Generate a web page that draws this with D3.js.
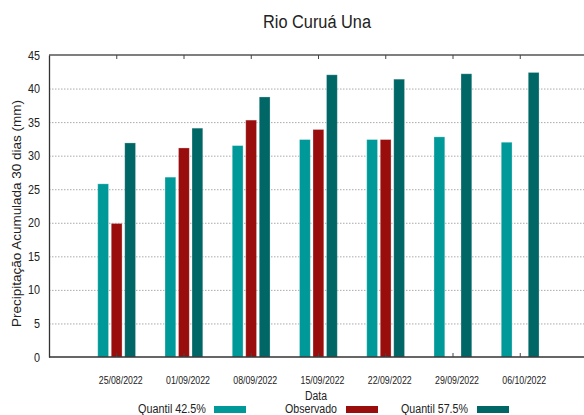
<!DOCTYPE html>
<html>
<head>
<meta charset="utf-8">
<script src="https://cdn.jsdelivr.net/npm/d3@7"></script>
<style>
  body { margin: 0; background: #fff; }
  text { font-family: "Liberation Sans", Arial, sans-serif; fill: #222; }
</style>
</head>
<body>
<script>
// data
const dates = ["2022-08-25", "2022-09-01", "2022-09-08", "2022-09-15", "2022-09-22", "2022-09-29", "2022-10-06"];
const q425 = [25.8, 26.8, 31.5, 32.4, 32.4, 32.8, 32.0];
const observado = [19.9, 31.15, 35.3, 33.9, 32.4, null, null];
const q575 = [31.9, 34.1, 38.75, 42.05, 41.4, 42.2, 42.4];
const seriesNames = ["Quantil 42.5%", "Observado", "Quantil 57.5%"];
const seriesColors = ["#009999", "#990d0d", "#006666"];
const yTicks = [0, 5, 10, 15, 20, 25, 30, 35, 40, 45];

const width = 584, height = 415;
const parse = d3.timeParse("%Y-%m-%d");
const fmt = d3.timeFormat("%d/%m/%Y");

const svg = d3.select("body").append("svg")
    .attr("width", width)
    .attr("height", height);

const x = d3.scaleTime()
    .domain([parse("2022-08-18"), parse("2022-10-13")])
    .range([49, 587]);
const y = d3.scaleLinear().domain([0, 45]).range([357, 55]);
// offset of each series inside a week group
const xs = d3.scaleBand().domain(seriesNames).range([-18.5, 19.3]).paddingInner(0.2);

const rows = dates.map((d, i) => ({
    date: parse(d),
    vals: [q425[i], observado[i], q575[i]]
}));

// dotted grid
svg.append("g").selectAll("line")
    .data(yTicks.filter(t => t > 0 && t < 45))
    .join("line")
    .attr("x1", x.range()[0]).attr("x2", width)
    .attr("y1", d => y(d) + 0.5).attr("y2", d => y(d) + 0.5)
    .attr("stroke", "#aaa")
    .attr("stroke-dasharray", "1.5,1.5");

// bars
const groups = svg.append("g").selectAll("g")
    .data(rows)
    .join("g")
    .attr("transform", d => `translate(${x(d.date)},0)`);
groups.selectAll("rect")
    .data(d => d.vals.map((v, k) => ({ v, k })).filter(e => e.v != null))
    .join("rect")
    .attr("x", e => xs(seriesNames[e.k]))
    .attr("width", xs.bandwidth())
    .attr("y", e => y(e.v))
    .attr("height", e => y(0) - y(e.v))
    .attr("fill", e => seriesColors[e.k])
    .attr("stroke", "#fff")
    .attr("stroke-opacity", 0.35)
    .attr("stroke-width", 0.8);

// frame and axes
svg.append("line").attr("x1", 49).attr("x2", width).attr("y1", 55).attr("y2", 55)
    .attr("stroke", "#555").attr("stroke-width", 1.3);
svg.append("line").attr("x1", 49).attr("x2", width).attr("y1", 357).attr("y2", 357)
    .attr("stroke", "#333").attr("stroke-width", 1.3);

const yAxis = svg.append("g")
    .attr("transform", "translate(49,0)")
    .call(d3.axisLeft(y).tickValues(yTicks).tickSize(0).tickPadding(9));
yAxis.select(".domain").attr("stroke", "#333").attr("stroke-width", 1.3);
yAxis.selectAll("text").attr("font-size", 12.5)
    .style("font-family", "'Liberation Sans', Arial, sans-serif").attr("fill", "#222")
    .attr("textLength", d => d < 10 ? 6 : 12).attr("lengthAdjust", "spacingAndGlyphs");

// date ticks, top pointing down, bottom pointing up
svg.append("g").attr("transform", "translate(0,55)")
    .call(d3.axisBottom(x).tickValues(rows.map(r => r.date)).tickSize(4).tickFormat(""))
    .call(g => g.select(".domain").remove())
    .selectAll("line").attr("stroke", "#444");
svg.append("g").attr("transform", "translate(0,357)")
    .call(d3.axisTop(x).tickValues(rows.map(r => r.date)).tickSize(4).tickFormat(""))
    .call(g => g.select(".domain").remove())
    .selectAll("line").attr("stroke", "#444");

// date labels
svg.append("g").selectAll("text")
    .data(rows)
    .join("text")
    .attr("x", d => x(d.date) + 4.5)
    .attr("y", 384)
    .attr("text-anchor", "middle")
    .attr("font-size", 10.5)
    .attr("textLength", 44)
    .attr("lengthAdjust", "spacingAndGlyphs")
    .text(d => fmt(d.date));

// titles
svg.append("text").attr("x", 263).attr("y", 28)
    .attr("font-size", 18).attr("textLength", 108).attr("lengthAdjust", "spacingAndGlyphs")
    .text("Rio Curuá Una");
svg.append("text").attr("x", 305).attr("y", 400)
    .attr("font-size", 12.5).attr("textLength", 22).attr("lengthAdjust", "spacingAndGlyphs")
    .text("Data");
svg.append("text")
    .attr("transform", "translate(21,327) rotate(-90)")
    .attr("font-size", 13)
    .attr("textLength", 227).attr("lengthAdjust", "spacingAndGlyphs")
    .text("Precipitação Acumulada 30 dias (mm)");

// legend
const legendX = [214, 346, 477];
const legendTextX = [138, 285, 401];
const legendTextW = [68, 52, 67];
const lg = svg.append("g").selectAll("g")
    .data(seriesNames)
    .join("g");
lg.append("rect").attr("x", (d, i) => legendX[i]).attr("y", 406).attr("width", 32).attr("height", 7)
    .attr("fill", (d, i) => seriesColors[i]);
lg.append("text").attr("x", (d, i) => legendTextX[i]).attr("y", 413)
    .attr("font-size", 12.5)
    .attr("textLength", (d, i) => legendTextW[i]).attr("lengthAdjust", "spacingAndGlyphs")
    .text(d => d);
</script>
</body>
</html>
